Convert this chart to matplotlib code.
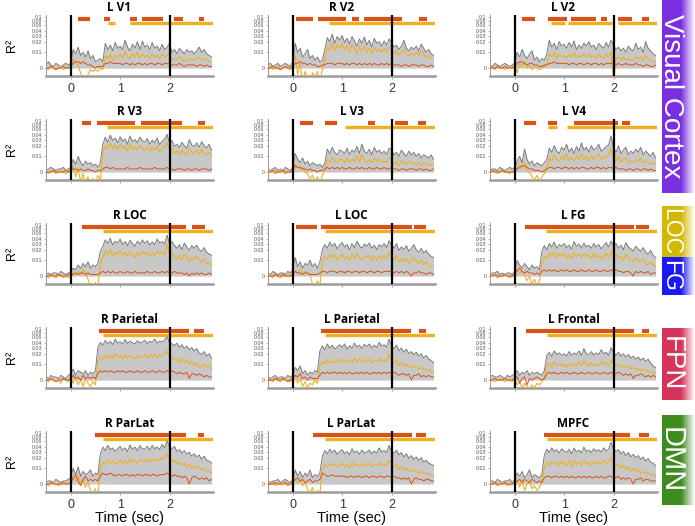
import numpy as np
import matplotlib
matplotlib.use("Agg")
import matplotlib.pyplot as plt
from matplotlib.ticker import NullLocator, FixedLocator, FixedFormatter
from matplotlib.colors import to_rgb

plt.rcParams["font.family"] = ["Liberation Sans", "DejaVu Sans"]

# time grid of the samples
T0 = -0.5
DT = 0.05
UNIT = 1e-3  # R^2 values are stored in thousandths

# ---------------- data (R^2 x 1000), t = -0.5 ... 2.85 s ----------------
LV1_gray = [2, 4, 2, 1, 3, 2, 1, 2, 3, 2, 3, 12, 9, 14, 8, 10, 7, 11, 6, 8,
            4, 5, 6, 4, 18, 12, 16, 11, 19, 13, 15, 12, 22, 14, 11, 17, 13, 20, 12, 21,
            14, 16, 12, 19, 13, 15, 11, 17, 12, 14, 18, 10, 12, 9, 13, 11, 9, 12, 10, 11,
            9, 11, 14, 10, 12, 9, 8, 7]
LV1_yel = [0, -1, 1, 0, -1, 0, 1, -1, 0, 0, 1, 6, 3, 2, -3, -7, -8, -4, -1, -2,
           -1, -2, 0, -1, 8, 6, 9, 5, 8, 7, 9, 6, 11, 7, 6, 9, 7, 10, 6, 9,
           7, 8, 6, 9, 7, 8, 6, 9, 7, 8, 9, 5, 6, 5, 7, 6, 4, 6, 5, 6,
           5, 6, 7, 5, 6, 5, 4, 4]
LV1_red = [0, 0, 1, 0, -1, 0, 0, 1, 0, 0, 1, 3, 4, 4, 3, 4, 3, 2, 2, 1,
           0, 1, 1, 1, 3, 3, 4, 3, 3, 3, 3, 2, 3, 3, 2, 3, 2, 3, 3, 2,
           3, 2, 3, 3, 2, 3, 3, 2, 3, 3, 3, 2, 2, 2, 3, 2, 1, 2, 2, 2,
           2, 1, 2, 2, 1, 2, 1, 1]
LV1_sig_red = [(0.15, 0.40), (0.67, 0.80), (1.21, 1.35), (1.45, 1.87), (2.09, 2.28), (2.59, 2.70)]
LV1_sig_yel = [(0.75, 0.90), (1.20, 2.88)]

RV2_gray = [2, 3, 1, 2, 3, 1, 2, 3, 2, 1, 4, 18, 10, 13, 7, 9, 12, 6, 8, 5,
            7, 4, 5, 12, 26, 20, 33, 18, 28, 22, 30, 19, 25, 17, 28, 21, 15, 24, 18, 27,
            16, 22, 14, 25, 18, 20, 15, 21, 16, 24, 19, 14, 16, 12, 15, 22, 13, 11, 14, 12,
            15, 11, 17, 13, 10, 12, 9, 8]
RV2_yel = [0, 1, -1, 0, 1, -1, 0, 1, 0, -1, 1, 8, -4, 3, -9, -2, -7, -10, -3, -6,
           -2, -8, -1, 5, 14, 12, 18, 11, 16, 13, 17, 12, 15, 10, 16, 13, 9, 14, 11, 15,
           10, 13, 9, 14, 11, 12, 10, 13, 10, 14, 13, 9, 11, 8, 10, 12, 9, 8, 9, 8,
           10, 8, 11, 9, 7, 8, 6, 6]
RV2_red = [0, 0, 1, 0, 0, -1, 0, 1, 0, 0, 1, 3, 3, 4, 3, 3, 2, 3, 2, 2,
           1, 1, 2, 2, 3, 3, 3, 2, 3, 3, 3, 2, 3, 2, 3, 3, 2, 3, 2, 3,
           2, 3, 2, 3, 2, 2, 3, 2, 3, 2, 3, 2, 2, 2, 1, 2, 2, 1, 2, 2,
           2, 1, 2, 2, 1, 1, 2, 1]
RV2_sig_red = [(0.07, 0.41), (0.52, 1.08), (1.21, 1.34), (1.45, 2.21), (2.56, 2.72)]
RV2_sig_yel = [(0.74, 2.88)]

LV2_gray = [2, 1, 3, 2, 1, 2, 3, 2, 1, 2, 3, 10, 7, 12, 8, 6, 9, 11, 5, 7,
            4, 6, 5, 9, 22, 14, 18, 12, 20, 15, 17, 13, 19, 14, 21, 12, 16, 13, 18, 15,
            20, 14, 16, 12, 18, 15, 13, 19, 14, 22, 16, 12, 14, 11, 13, 10, 15, 12, 11, 18,
            12, 14, 10, 20, 13, 11, 9, 8]
LV2_yel = [0, 0, -1, 1, 0, 0, -1, 0, 1, 0, 2, -3, 3, 1, 4, 0, 2, -1, 1, 0,
           -1, 0, 1, 2, 9, 7, 10, 6, 9, 7, 8, 6, 9, 7, 10, 6, 8, 7, 9, 7,
           9, 7, 8, 6, 9, 7, 6, 9, 7, 10, -8, 6, 7, 5, 7, 5, 6, 5, 5, 7,
           6, 7, 5, 8, 6, 5, 4, 4]
LV2_red = [0, 0, 0, 1, 0, 0, 1, 0, 0, 0, 1, 3, 4, 4, 3, 2, 3, 3, 2, 2,
           1, 1, 2, 2, 3, 3, 4, 3, 3, 3, 3, 3, 2, 3, 3, 2, 3, 3, 2, 3,
           3, 2, 3, 3, 2, 3, 2, 3, 3, 3, 3, 2, 3, 2, 2, 3, 2, 2, 2, 3,
           2, 2, 1, 2, 2, 1, 1, 2]
LV2_sig_red = [(0.14, 0.42), (0.67, 1.05), (1.13, 1.65), (1.75, 1.87), (2.10, 2.38), (2.57, 2.71)]
LV2_sig_yel = [(0.73, 1.01), (1.08, 1.97), (2.09, 2.88)]

RV3_gray = [1, 2, 3, 2, 1, 2, 2, 3, 1, 2, 3, 8, 5, 10, 6, 4, 7, 5, 6, 4,
            5, 3, 6, 22, 35, 25, 40, 28, 33, 24, 36, 27, 31, 22, 38, 26, 30, 24, 35, 28,
            25, 32, 22, 29, 24, 33, 21, 27, 30, 42, 24, 28, 19, 22, 18, 25, 20, 17, 30, 21,
            19, 24, 18, 26, 20, 17, 22, 15]
RV3_yel = [0, -1, 1, 0, -1, 0, 1, 0, -1, 0, 1, 4, -3, 2, -6, -1, -8, -3, -9, -4,
           -7, -2, -5, 12, 20, 16, 24, 17, 21, 15, 22, 16, 19, 14, 23, 16, 18, 15, 21, 17,
           15, 19, 14, 18, 15, 20, 13, 17, 18, 25, 15, 17, 12, 14, 11, 15, 12, 11, 17, 13,
           12, 15, 11, 16, 12, 11, 13, 10]
RV3_red = [0, 0, 0, 1, 0, 0, 0, 0, 1, 0, 1, 2, 2, 1, 2, 1, 1, 2, 1, 1,
           0, 1, 1, 2, 3, 3, 2, 3, 2, 2, 2, 2, 2, 3, 2, 2, 2, 2, 3, 2,
           2, 2, 2, 2, 3, 2, 2, 2, 2, 3, 2, 2, 1, 2, 2, 2, 1, 2, 2, 1,
           2, 2, 1, 2, 2, 2, 1, 2]
RV3_sig_red = [(0.22, 0.42), (0.53, 1.30), (1.42, 2.26), (2.57, 2.72)]
RV3_sig_yel = [(0.74, 2.88)]

LV3_gray = [2, 1, 2, 3, 1, 2, 1, 3, 2, 1, 3, 12, 8, 6, 9, 5, 7, 4, 6, 5,
            4, 5, 3, 6, 16, 12, 18, 13, 11, 15, 14, 12, 17, 11, 15, 13, 19, 12, 22, 14,
            12, 16, 11, 18, 13, 15, 12, 14, 11, 17, 16, 11, 13, 10, 15, 12, 10, 14, 11, 13,
            10, 12, 9, 11, 10, 9, 11, 8]
LV3_yel = [0, 1, 0, -1, 0, 1, 0, -1, 0, 0, 1, 5, 3, 2, 3, 0, -1, -4, -2, -6,
           -3, -7, -2, 1, 8, 6, 9, 7, 6, 8, 8, 6, 9, 6, 8, 7, 10, 6, 11, 7,
           6, 8, 6, 9, 7, 8, 6, 7, 6, 9, 8, 5, 7, 4, 7, 6, 5, 7, 5, 6,
           5, 6, 4, 6, 5, 4, 5, 4]
LV3_red = [0, 0, 1, 0, 0, 0, 1, 0, 0, 0, 1, 4, 3, 3, 2, 2, 1, 2, 1, 1,
           0, 1, 1, 2, 3, 2, 3, 2, 3, 2, 3, 2, 2, 3, 2, 2, 3, 2, 3, 2,
           2, 3, 2, 2, 3, 2, 2, 3, 2, 2, 3, 2, 2, 1, 2, 2, 1, 2, 2, 2,
           1, 2, 2, 1, 2, 1, 1, 2]
LV3_sig_red = [(0.14, 0.41), (0.66, 0.89), (1.53, 1.66), (2.08, 2.34), (2.54, 2.70)]
LV3_sig_yel = [(1.06, 2.88)]

LV4_gray = [1, 2, 2, 1, 3, 2, 1, 2, 3, 2, 3, 7, 10, 6, 16, 8, 5, 7, 4, 6,
            5, 4, 6, 8, 17, 13, 20, 14, 12, 18, 15, 22, 13, 17, 12, 19, 14, 24, 15, 18,
            13, 20, 15, 17, 22, 14, 16, 19, 21, 38, 17, 13, 20, 12, 15, 18, 11, 14, 12, 16,
            13, 18, 11, 14, 12, 10, 13, 9]
LV4_yel = [0, 0, 1, -1, 0, 1, 0, 0, -1, 0, 1, 3, 5, 2, 6, 1, 0, -3, -5, -2,
           -6, -3, -1, 3, 9, 7, 11, 8, 7, 10, 8, 12, 7, 9, 7, 10, 8, 12, 8, 10,
           7, 11, 8, 9, 12, 8, 9, 10, 11, 16, 9, 7, 10, 6, 8, 9, 6, 7, 6, 8,
           7, 9, 6, 7, 6, 5, 6, 5]
LV4_red = [0, 1, 0, 0, 0, 1, 0, 0, 0, 0, 1, 2, 3, 4, 4, 3, 2, 2, 1, 1,
           1, 0, 1, 2, 3, 3, 2, 3, 3, 2, 3, 3, 2, 3, 2, 3, 2, 3, 3, 2,
           2, 3, 2, 3, 3, 2, 3, 2, 3, 3, 2, 3, 2, 2, 2, 1, 2, 2, 1, 2,
           2, 1, 2, 2, 1, 2, 1, 1]
LV4_sig_red = [(0.19, 0.43), (0.67, 0.86), (1.20, 2.10), (2.18, 2.34)]
LV4_sig_yel = [(0.67, 0.86), (1.06, 2.88)]

RLOC_gray = [1, 2, 1, 2, 2, 1, 3, 2, 1, 2, 3, 5, 4, 7, 5, 8, 6, 9, 5, 7,
             6, 8, 18, 25, 38, 30, 42, 27, 35, 31, 40, 28, 34, 26, 37, 30, 25, 35, 29, 38,
             30, 36, 27, 33, 28, 40, 31, 34, 29, 52, 30, 34, 26, 22, 28, 20, 31, 24, 19, 26,
             22, 27, 20, 18, 23, 17, 15, 14]
RLOC_yel = [0, -1, 0, 0, -1, 0, 1, -1, 0, -1, 0, 2, 1, 3, 1, 4, 2, -2, -6, -9,
            -4, -8, 8, 12, 18, 15, 20, 13, 17, 15, 19, 14, 17, 13, 18, 15, 12, 17, 14, 18,
            15, 17, 13, 16, 14, 19, 15, 17, 14, 28, 15, 17, 12, 11, 14, 10, 15, 12, 9, 12,
            11, 13, 10, 9, 11, 8, 8, 7]
RLOC_red = [0, 0, 1, 0, 0, 1, 0, 0, 0, 1, 1, 1, 2, 1, 2, 2, 1, 2, 1, 1,
            1, 1, 2, 3, 2, 3, 2, 3, 2, 2, 3, 2, 2, 3, 2, 2, 3, 2, 2, 2,
            2, 3, 2, 2, 3, 2, 2, 3, 2, 3, 2, 2, 3, 2, 2, 2, 1, 2, 0, 2,
            1, 2, 1, 2, 1, 1, 2, 1]
RLOC_sig_red = [(0.22, 2.34), (2.45, 2.71)]
RLOC_sig_yel = [(0.65, 2.88)]

LLOC_gray = [2, 1, 3, 2, 1, 2, 2, 1, 3, 2, 4, 12, 6, 9, 5, 8, 7, 10, 6, 8,
             5, 9, 20, 28, 22, 33, 25, 30, 21, 27, 32, 24, 28, 20, 30, 23, 35, 26, 22, 29,
             25, 31, 22, 27, 20, 28, 24, 30, 23, 36, 27, 22, 30, 19, 24, 20, 26, 18, 22, 28,
             20, 17, 22, 16, 19, 15, 13, 12]
LLOC_yel = [0, 0, -1, 1, 0, -1, 0, 0, 1, 0, 1, 3, 2, 4, 1, 3, 2, 1, -5, -8,
            -3, -6, 9, 13, 11, 15, 12, 14, 10, 13, 15, 11, 13, 10, 14, 11, 16, 12, 10, 13,
            12, 14, 10, 13, 10, 13, 11, 14, 11, 17, 13, 10, 14, 9, 11, 9, 12, 8, 10, 12,
            9, 8, 10, 7, 9, 7, 6, 6]
LLOC_red = [0, 0, 0, 1, 0, 0, 1, 0, 0, 0, 1, 3, 2, 2, 1, 2, 2, 1, 1, 1,
            1, 2, 3, 3, 2, 3, 3, 3, 2, 3, 3, 2, 3, 3, 2, 3, 3, 2, 3, 3,
            2, 3, 3, 2, 3, 3, 2, 3, 3, 3, 3, 2, 3, 2, 3, 2, 3, 2, 0, 2,
            2, 3, 2, 2, 1, 2, 2, 1]
LLOC_sig_red = [(0.06, 0.50), (0.58, 2.42), (2.46, 2.70)]
LLOC_sig_yel = [(0.65, 2.88)]

LFG_gray = [1, 2, 2, 3, 1, 2, 1, 2, 2, 1, 3, 10, 7, 5, 8, 6, 4, 7, 5, 6,
            4, 18, 26, 20, 30, 24, 33, 22, 28, 25, 30, 23, 27, 21, 34, 25, 29, 22, 31, 24,
            27, 22, 30, 24, 28, 21, 26, 32, 24, 35, 26, 30, 22, 27, 20, 32, 24, 21, 18, 25,
            21, 18, 23, 17, 15, 19, 14, 12]
LFG_yel = [0, 1, 0, -1, 0, 0, 1, 0, -1, 0, 1, 4, 2, 3, 1, -3, 0, -5, -2, -6,
           -3, 8, 13, 11, 16, 13, 17, 12, 15, 13, 16, 12, 14, 11, 17, 13, 15, 12, 16, 13,
           14, 11, 16, 12, 14, 11, 13, 16, 12, 18, 13, 15, 11, 13, 10, 15, 12, 10, 9, 12,
           10, 9, 11, 8, 7, 9, 7, 6]
LFG_red = [0, 0, 1, 0, 0, 0, 1, 0, 0, 0, 1, 4, 5, 3, 2, 3, 2, 2, 1, 2,
           1, 3, 4, 3, 4, 3, 4, 3, 3, 4, 3, 4, 3, 3, 4, 3, 3, 4, 3, 3,
           4, 3, 3, 4, 3, 3, 4, 3, 3, 4, 3, 4, 3, 3, 2, 3, 3, 2, 0, 3,
           2, 3, 2, 2, 3, 1, 2, 2]
LFG_sig_red = [(0.20, 2.42), (2.46, 2.71)]
LFG_sig_yel = [(0.64, 2.88)]

RPAR_gray = [2, 1, 3, 2, 2, 1, 3, 2, 1, 3, 4, 7, 3, 6, 5, 4, 6, 3, 5, 4,
             6, 30, 42, 35, 48, 38, 45, 36, 52, 40, 44, 37, 50, 39, 46, 41, 38, 47, 40, 43,
             48, 39, 45, 42, 52, 40, 46, 43, 49, 62, 42, 38, 34, 40, 30, 36, 28, 33, 26, 30,
             24, 28, 21, 19, 23, 17, 20, 15]
RPAR_yel = [0, -1, 1, 0, -1, 0, -2, 1, 0, -1, 1, -2, 2, -3, 0, -4, 1, -2, -4, -1,
            -3, 12, 16, 14, 19, 15, 18, 14, 20, 16, 17, 14, 19, 15, 18, 16, 14, 18, 15, 17,
            19, 15, 18, 16, 20, 15, 18, 17, 19, 24, 16, 15, 13, 15, 11, 14, 11, 13, 10, 12,
            9, 11, 8, 9, 10, 8, 9, 7]
RPAR_red = [0, 0, 1, 0, -1, 0, 0, 1, 0, 0, 1, 3, 1, 2, 0, 3, 1, 2, 1, 2,
            1, 4, 6, 5, 6, 5, 6, 5, 5, 6, 5, 6, 5, 5, 6, 5, 5, 6, 5, 5,
            6, 5, 5, 6, 5, 5, 6, 5, 5, 6, 5, 6, 5, 4, 5, 4, 4, 5, 1, 4,
            4, 3, 4, 3, 2, 3, 2, 2]
RPAR_sig_red = [(0.57, 2.40), (2.49, 2.70)]
RPAR_sig_yel = [(0.66, 2.88)]

LPAR_gray = [2, 1, 2, 3, 1, 2, 2, 1, 3, 2, 3, 8, 6, 9, 4, 6, 3, 5, 4, 6,
             5, 24, 33, 26, 38, 29, 35, 27, 31, 36, 30, 38, 27, 34, 29, 40, 31, 35, 28, 37,
             32, 38, 29, 35, 30, 42, 33, 36, 31, 52, 33, 28, 35, 24, 29, 22, 27, 20, 23, 19,
             22, 17, 20, 15, 18, 14, 13, 11]
LPAR_yel = [0, 0, -1, 1, 0, -1, 0, 1, 0, -1, 1, 3, -2, 1, -4, -1, -5, -2, -3, 0,
            -2, 9, 12, 10, 14, 11, 13, 11, 12, 14, 12, 14, 11, 13, 11, 15, 12, 14, 11, 14,
            12, 14, 11, 13, 12, 15, 12, 13, 12, 19, 12, 11, 13, 9, 11, 9, 10, 8, 9, 8,
            9, 7, 8, 7, 7, 6, 6, 5]
LPAR_red = [0, 0, 0, 1, 0, 0, 1, 0, -1, 0, 1, 3, 2, 4, 1, 2, 0, 2, 1, 1,
            1, 3, 5, 4, 5, 4, 5, 5, 4, 5, 4, 5, 4, 5, 4, 4, 5, 4, 5, 4,
            5, 4, 4, 5, 4, 5, 4, 5, 4, 5, 4, 5, 4, 3, 4, 4, 3, 4, 0, 3,
            3, 4, 2, 3, 2, 3, 2, 2]
LPAR_sig_red = [(0.58, 2.40), (2.56, 2.70)]
LPAR_sig_yel = [(0.66, 2.88)]

LFRO_gray = [2, 3, 2, 2, 3, 2, 1, 3, 2, 3, 4, 6, 3, 5, 4, 6, 3, 5, 4, 5,
             4, 3, 6, 18, 22, 17, 24, 19, 21, 18, 20, 17, 23, 18, 21, 19, 24, 18, 28, 20,
             19, 23, 18, 21, 19, 26, 20, 22, 18, 30, 21, 18, 22, 17, 20, 16, 19, 15, 17, 14,
             16, 13, 15, 12, 14, 11, 9, 8]
LFRO_yel = [0, 0, -1, 0, 1, 0, -1, 0, 0, -1, 1, -3, -1, -5, -2, -4, -6, -3, -5, -2,
            -3, -1, 1, 9, 11, 8, 12, 9, 10, 9, 10, 8, 11, 9, 10, 9, 12, 9, 13, 10,
            9, 11, 9, 10, 9, 12, 10, 11, 9, 13, 10, 9, 10, 8, 9, 8, 9, 7, 8, 7,
            7, 6, 7, 6, 6, 5, 5, 4]
LFRO_red = [0, 0, 1, 0, 0, 0, 1, 0, 0, 0, 1, 2, -2, 1, 2, -3, 1, 0, 1, 2,
            1, 0, 1, 4, 5, 4, 5, 4, 4, 5, 4, 5, 4, 4, 5, 4, 4, 5, 4, 4,
            5, 4, 4, 5, 4, 4, 5, 4, 4, 5, 4, 4, 5, 4, 3, 4, 3, 4, 1, 3,
            3, 4, 3, 2, 3, 2, 3, 2]
LFRO_sig_red = [(0.22, 2.42), (2.58, 2.71)]
LFRO_sig_yel = [(0.65, 2.88)]

RPL_gray = [1, 2, 2, 1, 3, 2, 1, 2, 2, 3, 4, 10, 6, 11, 5, 8, 6, 7, 9, 5,
            7, 6, 25, 40, 32, 45, 34, 38, 30, 36, 42, 33, 38, 30, 46, 35, 40, 32, 44, 36,
            35, 42, 33, 45, 36, 40, 34, 48, 38, 62, 40, 36, 42, 30, 34, 27, 32, 25, 29, 22,
            26, 21, 24, 18, 22, 17, 16, 14]
RPL_yel = [0, -1, 0, 1, 0, -1, 0, 0, 1, 0, 1, 4, 2, 5, 1, 3, -2, 1, -4, -7,
           -3, -8, 10, 15, 13, 17, 14, 16, 13, 15, 17, 14, 16, 13, 19, 15, 17, 14, 18, 16,
           16, 18, 15, 19, 16, 18, 17, 20, 19, 26, 18, 16, 17, 13, 15, 12, 14, 11, 13, 10,
           12, 10, 11, 9, 10, 8, 8, 7]
RPL_red = [0, 0, 1, 0, 0, 0, 0, 1, 0, 0, 1, 4, 6, 2, -1, 3, 5, 2, 3, 2,
           3, 2, 5, 7, 6, 6, 7, 6, 5, 6, 6, 5, 6, 6, 5, 6, 5, 6, 6, 5,
           6, 6, 5, 6, 6, 5, 6, 6, 6, 7, 6, 5, 6, 5, 5, 4, 5, 4, 0, 4,
           5, 4, 3, 4, 3, 4, 2, 3]
RPL_sig_red = [(0.50, 2.34), (2.57, 2.69)]
RPL_sig_yel = [(0.65, 2.88)]

LPL_gray = [2, 1, 2, 2, 3, 1, 2, 3, 2, 1, 3, 9, 5, 8, 4, 7, 5, 9, 4, 6,
            5, 7, 22, 32, 26, 35, 28, 33, 25, 30, 34, 26, 30, 24, 36, 28, 31, 25, 33, 27,
            29, 33, 26, 31, 27, 38, 29, 32, 28, 45, 30, 27, 33, 24, 28, 21, 26, 19, 23, 18,
            21, 17, 20, 15, 17, 14, 13, 12]
LPL_yel = [0, 0, 1, -1, 0, 0, 1, 0, -1, 0, 1, 3, 1, 2, -1, 1, -3, -6, -2, -8,
           -4, -6, 9, 13, 11, 14, 12, 13, 11, 12, 14, 11, 13, 10, 15, 12, 13, 11, 14, 12,
           12, 14, 11, 13, 12, 15, 12, 13, 12, 18, 12, 11, 13, 9, 11, 9, 10, 8, 9, 8,
           9, 7, 8, 7, 7, 6, 6, 5]
LPL_red = [0, 0, 0, 1, 0, 0, 0, 1, 0, 0, 1, 3, 4, 2, 3, 1, 2, 3, 1, 2,
           2, 3, 7, 6, 5, 5, 6, 5, 5, 5, 5, 5, 4, 5, 5, 4, 5, 5, 4, 5,
           5, 4, 5, 5, 4, 5, 5, 4, 5, 5, 4, 5, 4, 4, 3, 4, 3, 4, 0, 3,
           4, 3, 3, 2, 3, 3, 2, 2]
LPL_sig_red = [(0.42, 2.42), (2.50, 2.70)]
LPL_sig_yel = [(0.65, 2.88)]

MPFC_gray = [2, 2, 1, 3, 2, 1, 2, 2, 3, 1, 3, 7, 5, 8, 4, 6, 9, 4, 6, 5,
             4, 6, 24, 35, 28, 38, 30, 34, 27, 36, 31, 28, 35, 26, 38, 29, 33, 27, 40, 30,
             33, 28, 36, 30, 34, 29, 38, 31, 35, 55, 36, 30, 34, 26, 30, 23, 28, 21, 25, 20,
             23, 18, 21, 16, 19, 15, 14, 12]
MPFC_yel = [0, 1, 0, -1, 0, 1, 0, -1, 0, 0, 1, 2, -2, 3, -4, 0, 2, -3, -1, -4,
            -2, 1, 10, 15, 12, 16, 13, 15, 12, 16, 14, 12, 16, 11, 17, 13, 15, 12, 17, 13,
            15, 12, 16, 13, 15, 13, 17, 14, 15, 20, 14, 12, 13, 10, 12, 9, 11, 8, 10, 8,
            9, 7, 8, 7, 7, 6, 6, 5]
MPFC_red = [0, 0, 1, 0, 0, 0, 1, 0, 0, 0, 1, 2, 3, 1, 3, 2, 1, 3, 2, 1,
            2, 1, 4, 5, 5, 4, 5, 5, 4, 5, 4, 5, 4, 5, 4, 4, 5, 4, 5, 4,
            5, 4, 4, 5, 4, 5, 4, 4, 5, 5, 4, 4, 5, 3, 4, 3, 4, 3, 0, 3,
            3, 4, 2, 3, 3, 2, 2, 2]
MPFC_sig_red = [(0.59, 2.34), (2.51, 2.71)]
MPFC_sig_yel = [(0.66, 2.88)]

PANELS = [
    ("L V1", LV1_gray, LV1_yel, LV1_red, LV1_sig_red, LV1_sig_yel),
    ("R V2", RV2_gray, RV2_yel, RV2_red, RV2_sig_red, RV2_sig_yel),
    ("L V2", LV2_gray, LV2_yel, LV2_red, LV2_sig_red, LV2_sig_yel),
    ("R V3", RV3_gray, RV3_yel, RV3_red, RV3_sig_red, RV3_sig_yel),
    ("L V3", LV3_gray, LV3_yel, LV3_red, LV3_sig_red, LV3_sig_yel),
    ("L V4", LV4_gray, LV4_yel, LV4_red, LV4_sig_red, LV4_sig_yel),
    ("R LOC", RLOC_gray, RLOC_yel, RLOC_red, RLOC_sig_red, RLOC_sig_yel),
    ("L LOC", LLOC_gray, LLOC_yel, LLOC_red, LLOC_sig_red, LLOC_sig_yel),
    ("L FG", LFG_gray, LFG_yel, LFG_red, LFG_sig_red, LFG_sig_yel),
    ("R Parietal", RPAR_gray, RPAR_yel, RPAR_red, RPAR_sig_red, RPAR_sig_yel),
    ("L Parietal", LPAR_gray, LPAR_yel, LPAR_red, LPAR_sig_red, LPAR_sig_yel),
    ("L Frontal", LFRO_gray, LFRO_yel, LFRO_red, LFRO_sig_red, LFRO_sig_yel),
    ("R ParLat", RPL_gray, RPL_yel, RPL_red, RPL_sig_red, RPL_sig_yel),
    ("L ParLat", LPL_gray, LPL_yel, LPL_red, LPL_sig_red, LPL_sig_yel),
    ("MPFC", MPFC_gray, MPFC_yel, MPFC_red, MPFC_sig_red, MPFC_sig_yel),
]

RED_BAR_Y = 0.087
YEL_BAR_Y = 0.068
YTICKS = [0, 0.01, 0.02, 0.03, 0.04, 0.06, 0.08, 0.1]
YTICKLABELS = ["0", "0.01", "0.02", "0.03", "0.04", "0.06", "0.08", "0.1"]

GROUPS = [("Visual Cortex", "#7a2fe0", 0, 193, 20),
          ("LOC", "#d4b800", 206, 257, 16.5),
          ("FG", "#1a1af5", 257, 295, 16.5),
          ("FPN", "#d6345a", 328, 400, 20),
          ("DMN", "#3e8c20", 415, 505, 21)]

C_RED = "#d95319"
C_YEL = "#edb120"
C_GRAYLINE = "#7a7a7a"
C_FILL = "#c8c8c8"

# y axis: linear up to 0.01, logarithmic above (as in the original figure)
LIN_T = 0.01
LIN_DEC = 0.45  # height of the linear part, in decades


def y_fwd(v):
    v = np.asarray(v, float)
    a = np.abs(v)
    logpart = np.sign(v) * (LIN_DEC + np.log10(np.maximum(a, 1e-12) / LIN_T))
    return np.where(a <= LIN_T, v / LIN_T * LIN_DEC, logpart)


def y_inv(u):
    u = np.asarray(u, float)
    a = np.abs(u)
    logpart = np.sign(u) * LIN_T * 10.0 ** (np.minimum(a, 50) - LIN_DEC)
    return np.where(a <= LIN_DEC, u * LIN_T / LIN_DEC, logpart)


W, H = 695, 526
fig = plt.figure(figsize=(W / 100, H / 100), dpi=100)

col_left = [46, 268, 490]
ax_w = 167
row_top0, row_step, ax_h = 15, 104, 61

for k, (name, g, yv, rv, sr, sy) in enumerate(PANELS):
    row, col = divmod(k, 3)
    left = col_left[col]
    top = row_top0 + row * row_step
    ax = fig.add_axes([left / W, 1 - (top + ax_h) / H, ax_w / W, ax_h / H])
    ax.set_yscale("function", functions=(y_fwd, y_inv))
    g = np.asarray(g, float) * UNIT
    yv = np.asarray(yv, float) * UNIT
    rv = np.asarray(rv, float) * UNIT
    tg = T0 + DT * np.arange(len(g))
    ty = T0 + DT * np.arange(len(yv))
    tr = T0 + DT * np.arange(len(rv))
    ax.fill_between(tg, 0, g, color=C_FILL, lw=0, zorder=1)
    ax.plot(tg, g, color=C_GRAYLINE, lw=0.7, zorder=2)
    ax.plot(ty, yv, color=C_YEL, lw=0.8, zorder=3)
    ax.plot(tr, rv, color=C_RED, lw=0.7, zorder=4)
    for a, b in sr:
        ax.plot([a, b], [RED_BAR_Y, RED_BAR_Y], color=C_RED, lw=3.0,
                solid_capstyle="butt", zorder=5)
    for a, b in sy:
        ax.plot([a, b], [YEL_BAR_Y, YEL_BAR_Y], color=C_YEL, lw=2.4,
                solid_capstyle="butt", zorder=5)
    ax.axvline(0, color="black", lw=1.6, zorder=6)
    ax.axvline(2, color="black", lw=1.6, zorder=6)
    ax.set_xlim(-0.5, 2.88)
    ax.set_ylim(-0.005, 0.115)
    ax.yaxis.set_major_locator(FixedLocator(YTICKS))
    ax.yaxis.set_major_formatter(FixedFormatter(YTICKLABELS))
    ax.yaxis.set_minor_locator(NullLocator())
    ax.set_xticks([0, 1, 2])
    ax.xaxis.set_minor_locator(NullLocator())
    for s in ("top", "right"):
        ax.spines[s].set_visible(False)
    ax.spines["left"].set_color("#9a9a9a")
    ax.spines["left"].set_linewidth(0.7)
    ax.spines["bottom"].set_color("#9a9a9a")
    ax.spines["bottom"].set_linewidth(1.8)
    ax.tick_params(axis="y", labelsize=3.8, length=1.5, width=0.5,
                   color="#9a9a9a", labelcolor="#555555", pad=1)
    ax.tick_params(axis="x", labelsize=9, length=2, width=0.6,
                   color="#9a9a9a", labelcolor="#333333", pad=3)
    if row not in (0, 4):
        ax.set_xticklabels([])
    ax.set_title(name, fontsize=8.5, fontweight="bold", family="Open Sans",
                 pad=3, x=0.44 if row == 0 else 0.5)
    if col == 0:
        fig.text(12 / W, 1 - (top + ax_h / 2) / H, "R²", rotation=90,
                 ha="center", va="center", fontsize=9)
    if row == 4:
        fig.text((left + ax_w / 2) / W, 1 - 518 / H, "Time (sec)",
                 ha="center", va="center", fontsize=10.5)

# coloured group labels on the right
bx0, bw = 662, 33
xs = np.linspace(0, 1, 120)
alpha = np.clip((1.0 - xs) / 0.42, 0, 1)
for label, color, y0, y1, fs in GROUPS:
    axb = fig.add_axes([bx0 / W, 1 - y1 / H, bw / W, (y1 - y0) / H])
    img = np.ones((1, len(xs), 4))
    img[0, :, :3] = to_rgb(color)
    img[0, :, 3] = alpha
    axb.imshow(img, aspect="auto", extent=[0, 1, 0, 1], interpolation="bilinear")
    axb.set_xlim(0, 1)
    axb.set_ylim(0, 1)
    axb.axis("off")
    axb.text(0.27, 0.5, label, rotation=270, ha="center", va="center",
             color="white", fontsize=fs, family="Liberation Sans")

fig.savefig("out.png", dpi=100)
